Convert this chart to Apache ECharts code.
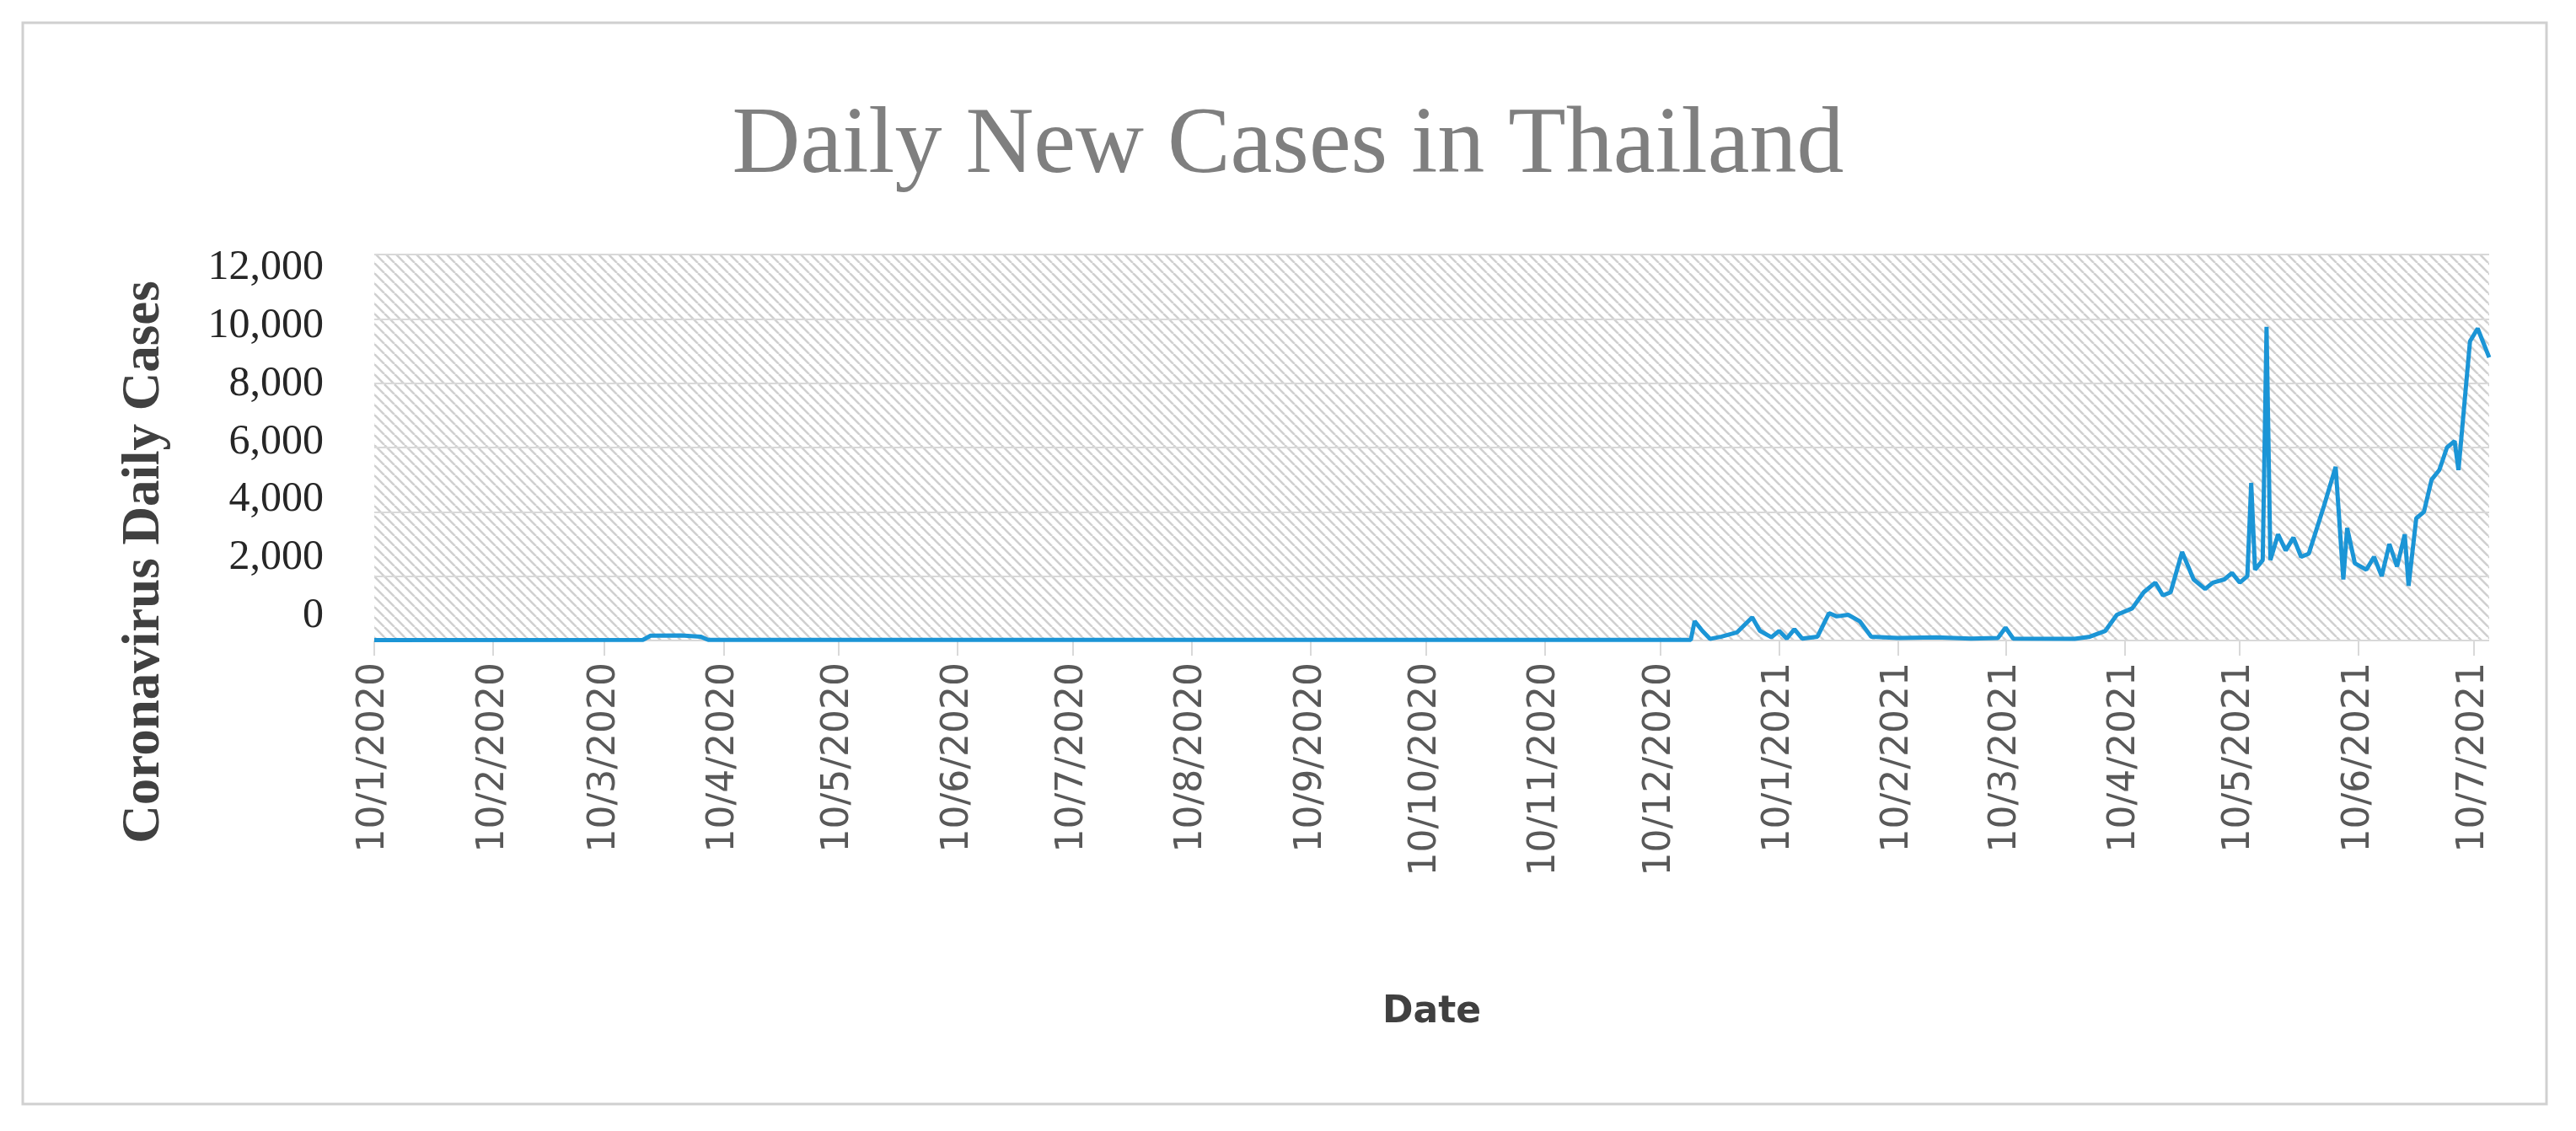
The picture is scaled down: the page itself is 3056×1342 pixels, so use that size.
<!DOCTYPE html>
<html><head><meta charset="utf-8">
<script src="https://cdn.jsdelivr.net/npm/echarts@6/dist/echarts.min.js"></script>
<style>html,body{margin:0;padding:0;background:#fff}#c{width:3056px;height:1342px}</style>
</head><body><div id="c"></div>
<script>
// Key points (date, daily new cases)
const pointDates = [
 '2020-01-10','2020-03-20','2020-03-22','2020-03-30','2020-04-04','2020-04-06','2020-12-18',
 '2020-12-19','2020-12-21','2020-12-23','2020-12-26','2020-12-30','2021-01-03','2021-01-05',
 '2021-01-08','2021-01-10','2021-01-12','2021-01-14','2021-01-16','2021-01-20','2021-01-23',
 '2021-01-25','2021-01-28','2021-01-31','2021-02-03','2021-02-10','2021-02-20','2021-03-01',
 '2021-03-08','2021-03-10','2021-03-12','2021-03-28','2021-04-01','2021-04-05','2021-04-08',
 '2021-04-12','2021-04-15','2021-04-18','2021-04-20','2021-04-22','2021-04-25','2021-04-28',
 '2021-05-01','2021-05-03','2021-05-06','2021-05-08','2021-05-10','2021-05-12','2021-05-13',
 '2021-05-14','2021-05-16','2021-05-17','2021-05-18','2021-05-20','2021-05-22','2021-05-24',
 '2021-05-26','2021-05-28','2021-06-01','2021-06-04','2021-06-06','2021-06-07','2021-06-09',
 '2021-06-12','2021-06-14','2021-06-16','2021-06-18','2021-06-20','2021-06-22','2021-06-23',
 '2021-06-25','2021-06-27','2021-06-29','2021-07-01','2021-07-03','2021-07-05','2021-07-06',
 '2021-07-09','2021-07-11','2021-07-14'];
const pointValues = [
 10,20,150,160,120,20,20,
 600,300,50,120,250,720,300,
 100,300,60,350,60,120,850,
 750,800,600,120,80,100,60,
 80,400,60,50,120,300,800,
 1000,1500,1800,1400,1500,2750,1900,
 1600,1800,1900,2100,1800,2000,4900,
 2200,2500,9750,2500,3300,2800,3200,
 2600,2700,4200,5400,1900,3500,2400,
 2200,2600,2000,3000,2300,3300,1700,
 3800,4000,5000,5300,6000,6200,5300,
 9300,9700,8800];
const startDate = '2020-01-10', endDate = '2021-07-14';
const yTicks = [0,2000,4000,6000,8000,10000,12000];

const categories = [];
const dayOf = [];
for (let d = new Date(startDate+'T00:00:00Z'); d <= new Date(endDate+'T00:00:00Z'); d.setUTCDate(d.getUTCDate()+1)) {
  categories.push(d.getUTCDate()+'/'+(d.getUTCMonth()+1)+'/'+d.getUTCFullYear());
  dayOf.push(d.toISOString().slice(0,10));
}
const pmap = {};
pointDates.forEach((k,i)=>pmap[k]=pointValues[i]);
const seriesData = dayOf.map(k => pmap[k] !== undefined ? pmap[k] : null);

const pc = document.createElement('canvas');
pc.width = 12; pc.height = 12;
const g = pc.getContext('2d');
g.fillStyle = '#ffffff'; g.fillRect(0,0,12,12);
g.strokeStyle = '#d0d0d0'; g.lineWidth = 2.6;
for (let o=-12;o<=12;o+=12){ g.beginPath(); g.moveTo(o,0); g.lineTo(o+12,12); g.stroke(); }

const showDay = (i) => categories[i].startsWith('10/');
const chart = echarts.init(document.getElementById('c'));
chart.setOption({
  animation:false,
  backgroundColor:'#fff',
  graphic:[{type:'rect',shape:{x:27,y:27,width:2994,height:1283},style:{fill:'none',stroke:'#d0d0d0',lineWidth:3}},
    {type:'text',x:172,y:667,rotation:Math.PI/2,
     style:{text:'Coronavirus Daily Cases',align:'center',verticalAlign:'middle',
       fontFamily:'Liberation Serif',fontWeight:'bold',fontSize:63,fill:'#404040'}}],
  title:{text:'Daily New Cases in Thailand',left:'center',top:114,
    textStyle:{fontFamily:'Liberation Serif',fontWeight:'normal',fontSize:112,color:'#7f7f7f'}},
  grid:[{left:444,right:103,top:302,bottom:582,show:true,borderWidth:0,backgroundColor:{image:pc,repeat:'repeat'}},
        {left:444,right:103,top:318,bottom:611}],
  xAxis:[{type:'category',gridIndex:0,data:categories,boundaryGap:false,
    name:'Date',nameLocation:'middle',nameGap:420,
    nameTextStyle:{fontFamily:'DejaVu Sans',fontWeight:'bold',fontSize:44,color:'#404040'},
    axisLine:{show:false},
    axisTick:{show:true,interval:showDay,length:18,lineStyle:{color:'#d9d9d9',width:2}},
    axisLabel:{interval:showDay,rotate:90,margin:26,fontFamily:'DejaVu Sans',fontSize:44,color:'#595959'}},
    {type:'category',gridIndex:1,show:false,data:categories}],
  yAxis:[{type:'value',gridIndex:0,min:0,max:12000,interval:2000,
    axisLabel:{show:false},axisLine:{show:false},axisTick:{show:false},
    splitLine:{lineStyle:{color:'#d9d9d9',width:2}}},
    {type:'value',gridIndex:1,min:0,max:12000,interval:2000,
    axisLine:{show:false},axisTick:{show:false},splitLine:{show:false},
    axisLabel:{margin:60,fontFamily:'Liberation Serif',fontSize:50,color:'#262626',
      formatter:v=>v.toLocaleString('en-US')}}],
  series:[{type:'line',xAxisIndex:0,yAxisIndex:0,data:seriesData,connectNulls:true,
    showSymbol:false,lineStyle:{color:'#1b95d6',width:5}}]
});
</script></body></html>
